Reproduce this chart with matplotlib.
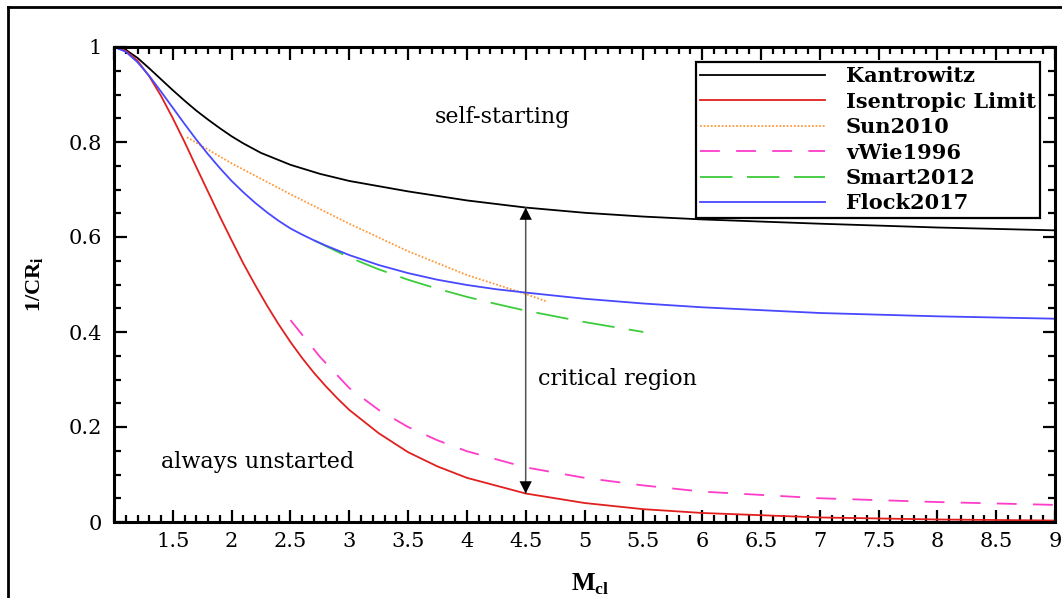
import matplotlib
matplotlib.use("Agg")
import matplotlib.pyplot as plt
from matplotlib.lines import Line2D
from matplotlib.ticker import MultipleLocator

plt.rcParams['font.family'] = ['DejaVu Serif']
plt.rcParams['mathtext.fontset'] = 'custom'
plt.rcParams['mathtext.rm'] = 'Liberation Serif'
plt.rcParams['mathtext.bf'] = 'Liberation Serif:bold'

# Kantrowitz limit
kan_m = [1.0, 1.1, 1.2, 1.3, 1.4, 1.5, 1.6, 1.7, 1.8, 1.9, 2.0, 2.1, 2.25, 2.5,
         2.75, 3.0, 3.5, 4.0, 4.5, 5.0, 5.5, 6.0, 7.0, 8.0, 9.0]
kan_v = [1.0, 0.994, 0.977, 0.955, 0.932, 0.909, 0.887, 0.866, 0.847, 0.829,
         0.812, 0.797, 0.777, 0.752, 0.733, 0.718, 0.696, 0.677, 0.662, 0.651,
         0.643, 0.637, 0.628, 0.620, 0.614]

# Isentropic limit
isen_m = [1.0, 1.1, 1.2, 1.3, 1.4, 1.5, 1.6, 1.7, 1.8, 1.9, 2.0, 2.1, 2.2, 2.3,
          2.4, 2.5, 2.6, 2.7, 2.8, 2.9, 3.0, 3.25, 3.5, 3.75, 4.0, 4.5, 5.0,
          5.5, 6.0, 7.0, 8.0, 9.0]
isen_v = [1.0, 0.992, 0.971, 0.938, 0.897, 0.850, 0.800, 0.747, 0.695, 0.643,
          0.593, 0.544, 0.499, 0.456, 0.416, 0.379, 0.345, 0.314, 0.286, 0.260,
          0.236, 0.187, 0.147, 0.117, 0.093, 0.060, 0.040, 0.027, 0.019, 0.0096,
          0.0053, 0.0031]

# Sun2010
sun_m = [1.62, 2.0, 2.5, 3.0, 3.5, 4.0, 4.5, 4.67]
sun_v = [0.81, 0.755, 0.69, 0.628, 0.57, 0.52, 0.48, 0.465]

# vWie1996
vwie_m = [2.5, 2.75, 3.0, 3.25, 3.5, 3.75, 4.0, 4.5, 5.0, 5.5, 6.0, 7.0, 8.0, 9.0]
vwie_v = [0.425, 0.348, 0.282, 0.236, 0.200, 0.172, 0.149, 0.115, 0.093, 0.077,
          0.064, 0.050, 0.042, 0.036]

# Smart2012
smart_m = [2.7, 2.8, 2.9, 3.0, 3.25, 3.5, 3.75, 4.0, 4.25, 4.5, 5.0, 5.5]
smart_v = [0.593, 0.581, 0.569, 0.557, 0.532, 0.510, 0.491, 0.474, 0.459, 0.445,
           0.421, 0.400]

# Flock2017
flock_m = [1.0, 1.1, 1.2, 1.3, 1.4, 1.5, 1.6, 1.7, 1.8, 1.9, 2.0, 2.1, 2.2, 2.3,
           2.4, 2.5, 2.6, 2.7, 2.8, 2.9, 3.0, 3.25, 3.5, 3.75, 4.0, 4.25, 4.5,
           5.0, 5.5, 6.0, 7.0, 8.0, 9.0]
flock_v = [1.0, 0.990, 0.968, 0.939, 0.906, 0.872, 0.838, 0.805, 0.774, 0.745,
           0.718, 0.694, 0.672, 0.652, 0.634, 0.618, 0.605, 0.593, 0.582, 0.572,
           0.562, 0.541, 0.524, 0.510, 0.499, 0.490, 0.483, 0.470, 0.460, 0.452,
           0.440, 0.433, 0.428]

arrow_m = 4.5
arrow_top = 0.662
arrow_bottom = 0.060

fig = plt.figure(figsize=(10.62, 5.98), dpi=100)
ax = fig.add_axes([114 / 1062, 76 / 598, 941 / 1062, 475 / 598])

lw = 1.3
ax.plot(kan_m, kan_v, color='black', lw=lw, label='Kantrowitz')
ax.plot(isen_m, isen_v, color='#e0201e', lw=lw, label='Isentropic Limit')
ax.plot(sun_m, sun_v, color='#ff9a3c', lw=lw, ls=(0, (1, 1)), label='Sun2010')
ax.plot(vwie_m, vwie_v, color='#ff3cc8', lw=lw, ls=(0, (11, 9)), label='vWie1996')
ax.plot(smart_m, smart_v, color='#3ccc3c', lw=lw, ls=(0, (18, 8)), label='Smart2012')
ax.plot(flock_m, flock_v, color='#4848ff', lw=lw, label='Flock2017')

# double-headed arrow spanning the critical region
ax.annotate('', xy=(arrow_m, arrow_bottom), xytext=(arrow_m, arrow_top),
            arrowprops=dict(arrowstyle='-', color='#555555', lw=1.1,
                            shrinkA=0, shrinkB=0))
ax.annotate('', xy=(arrow_m, arrow_bottom), xytext=(arrow_m, arrow_top),
            arrowprops=dict(arrowstyle='<|-|>', color='black', lw=0.01,
                            mutation_scale=22, shrinkA=0, shrinkB=0))

ax.text(4.30, 0.852, 'self-starting', fontsize=16, ha='center', va='center')
ax.text(5.28, 0.300, 'critical region', fontsize=16, ha='center', va='center')
ax.text(2.22, 0.127, 'always unstarted', fontsize=16, ha='center', va='center')

ax.set_xlim(1, 9)
ax.set_ylim(0, 1)
ax.xaxis.set_major_locator(MultipleLocator(0.5))
ax.xaxis.set_minor_locator(MultipleLocator(0.1))
ax.yaxis.set_major_locator(MultipleLocator(0.2))
ax.yaxis.set_minor_locator(MultipleLocator(0.05))


def fmt_x(v, pos):
    if abs(v - 1) < 1e-9:
        return ''
    return '%g' % v


ax.xaxis.set_major_formatter(plt.FuncFormatter(fmt_x))
ax.yaxis.set_major_formatter(plt.FuncFormatter(lambda v, p: '%g' % v))

ax.tick_params(which='both', direction='in', top=True, right=True, labelsize=15,
               width=1.6, colors='black')
ax.tick_params(which='major', length=9)
ax.tick_params(which='minor', length=5)
ax.tick_params(axis='x', which='major', pad=7)
ax.tick_params(axis='y', which='major', pad=9)
for s in ax.spines.values():
    s.set_linewidth(2.2)

ax.set_xlabel(r'$\mathbf{M}_{\mathbf{cl}}$', fontsize=18)
ax.set_ylabel(r'$\mathbf{1/CR}_{\mathbf{i}}$', fontsize=16)
ax.xaxis.set_label_coords(0.506, -0.104)
ax.yaxis.set_label_coords(-0.072, 0.5)

leg = ax.legend(loc='upper right', bbox_to_anchor=(0.984, 0.968),
                prop={'weight': 'bold', 'size': 15}, handlelength=6.0,
                handletextpad=1.0, labelspacing=0.26, borderpad=0.2,
                borderaxespad=0, fancybox=False, framealpha=1)
leg.get_frame().set_edgecolor('black')
leg.get_frame().set_linewidth(1.6)

# page frame
fig.add_artist(Line2D([8 / 1062, 8 / 1062], [0, 1 - 7 / 598], transform=fig.transFigure,
                      color='black', lw=2))
fig.add_artist(Line2D([8 / 1062, 1], [1 - 7 / 598, 1 - 7 / 598], transform=fig.transFigure,
                      color='black', lw=2))

fig.savefig('out.png', dpi=100)
